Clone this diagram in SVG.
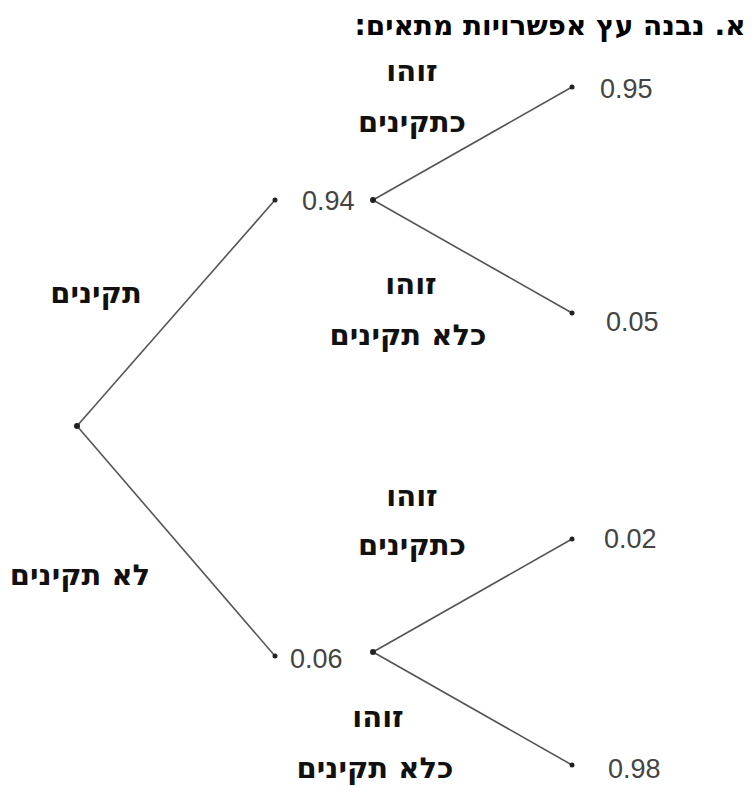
<svg xmlns="http://www.w3.org/2000/svg" width="755" height="786" viewBox="0 0 755 786">
<style>
.heb{font-family:"DejaVu Sans",sans-serif;font-weight:bold;font-size:29px;fill:#111;text-anchor:middle;direction:rtl}
.num{font-family:"Liberation Sans",Arial,sans-serif;font-size:27px;fill:#444}
.edge{stroke:#555;stroke-width:1.6;fill:none}
.dot{fill:#222}
</style>
<rect width="755" height="786" fill="#fff"/>
<text x="550" y="35" direction="rtl" style="font-family:'DejaVu Sans',sans-serif;font-weight:bold;font-size:28px;fill:#000;text-anchor:middle">א. נבנה עץ אפשרויות מתאים:</text>
<g id="connectors">
<line class="edge" x1="77" y1="426" x2="275" y2="200"/>
<line class="edge" x1="77" y1="426" x2="275" y2="656"/>
<line class="edge" x1="373" y1="200" x2="572" y2="87"/>
<line class="edge" x1="373" y1="200" x2="572" y2="313"/>
<line class="edge" x1="373" y1="652" x2="572" y2="539"/>
<line class="edge" x1="373" y1="652" x2="572" y2="765"/>
</g>
<g id="root"><circle class="dot" cx="77" cy="426" r="3"/></g>
<g id="n094"><circle class="dot" cx="275" cy="200" r="2.5"/><text class="num" x="302" y="210">0.94</text><circle class="dot" cx="373" cy="200" r="3"/></g>
<g id="n006"><circle class="dot" cx="275" cy="656" r="2.5"/><text class="num" x="290" y="668">0.06</text><circle class="dot" cx="373" cy="652" r="3"/></g>
<g id="n095"><circle class="dot" cx="572" cy="87" r="2.5"/><text class="num" x="600" y="98">0.95</text></g>
<g id="n005"><circle class="dot" cx="572" cy="313" r="2.5"/><text class="num" x="606" y="331">0.05</text></g>
<g id="n002"><circle class="dot" cx="572" cy="539" r="2.5"/><text class="num" x="604" y="548">0.02</text></g>
<g id="n098"><circle class="dot" cx="572" cy="765" r="2.5"/><text class="num" x="608" y="778">0.98</text></g>
<g id="labels">
<text class="heb" x="96" y="303">תקינים</text>
<text class="heb" x="80" y="585">לא תקינים</text>
<text class="heb" x="412" y="81">זוהו</text>
<text class="heb" x="412" y="132">כתקינים</text>
<text class="heb" x="411" y="294">זוהו</text>
<text class="heb" x="408" y="345">כלא תקינים</text>
<text class="heb" x="412" y="506">זוהו</text>
<text class="heb" x="412" y="555">כתקינים</text>
<text class="heb" x="378" y="727">זוהו</text>
<text class="heb" x="375" y="778">כלא תקינים</text>
</g>
</svg>
